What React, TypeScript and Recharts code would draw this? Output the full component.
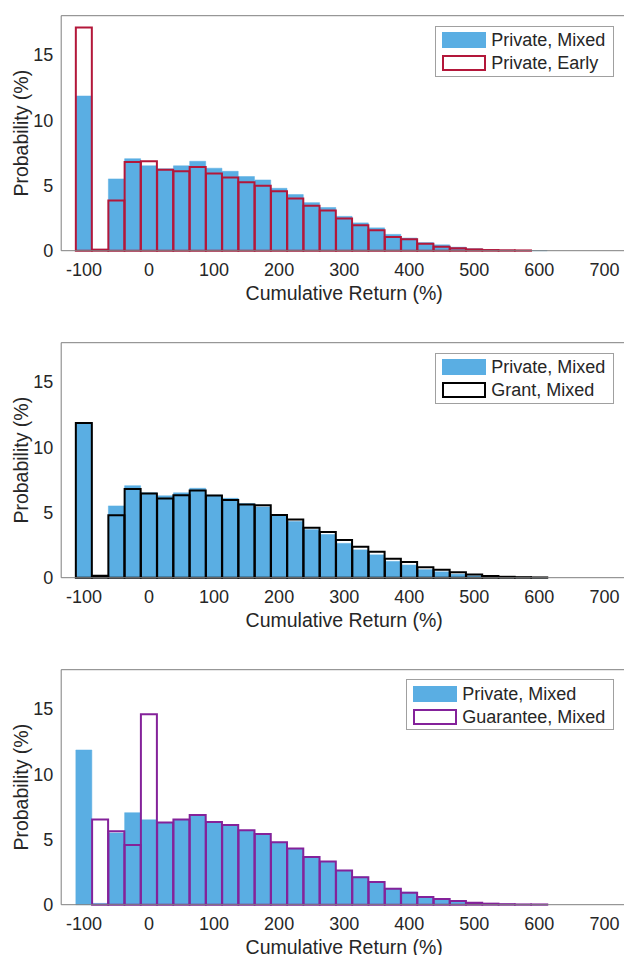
import { BarChart, Bar, XAxis, YAxis, Legend } from 'recharts';

// histogram bins (bin centres, width 25)
const BINS = [-100, -75, -50, -25, 0, 25, 50, 75, 100, 125, 150, 175, 200, 225, 250, 275, 300, 325, 350, 375, 400, 425, 450, 475, 500, 525, 550, 575, 600];

const PRIVATE_MIXED = [11.85, 0.1, 5.5, 7.05, 6.5, 6.27, 6.5, 6.85, 6.32, 6.08, 5.68, 5.42, 4.78, 4.3, 3.68, 3.31, 2.63, 2.13, 1.75, 1.25, 0.97, 0.62, 0.45, 0.27, 0.15, 0.08, 0.04, 0.02, 0.01];
const PRIVATE_EARLY = [17.1, 0.08, 3.85, 6.8, 6.85, 6.2, 6.08, 6.42, 5.92, 5.6, 5.25, 4.97, 4.55, 4.0, 3.45, 3.08, 2.46, 1.95, 1.56, 1.05, 0.87, 0.54, 0.31, 0.18, 0.1, 0.05, 0.03, 0.02, null];
const GRANT_MIXED = [11.84, 0.15, 4.79, 6.8, 6.44, 6.06, 6.32, 6.67, 6.29, 5.96, 5.6, 5.55, 4.81, 4.46, 3.82, 3.51, 2.88, 2.37, 1.99, 1.45, 1.2, 0.81, 0.61, 0.41, 0.25, 0.13, 0.07, 0.04, 0.02];
const GUARANTEE_MIXED = [null, 6.52, 5.62, 4.58, 14.58, 6.29, 6.52, 6.88, 6.34, 6.11, 5.7, 5.42, 4.79, 4.3, 3.66, 3.31, 2.62, 2.11, 1.73, 1.22, 0.92, 0.59, 0.43, 0.28, 0.15, 0.08, 0.04, 0.02, 0.02];

const X_TICKS = [-100, 0, 100, 200, 300, 400, 500, 600, 700];
const Y_TICKS = [0, 5, 10, 15];
const X_DOMAIN = [-135, 735];
const Y_DOMAIN = [0, 18];

const FONT = '"Liberation Sans", Arial, Helvetica, sans-serif';
const TEXT = '#262626';
const AXIS = '#7f7f7f';
const BLUE = '#5AAEE3';

const CHART_W = 640;
const CHART_H = 327;

const panels = [
  { name: 'Private, Early', values: PRIVATE_EARLY, color: '#B3173A', top: 0 },
  { name: 'Grant, Mixed', values: GRANT_MIXED, color: '#000000', top: 327 },
  { name: 'Guarantee, Mixed', values: GUARANTEE_MIXED, color: '#84229A', top: 653.6 },
];

function LegendBox({ color, name }: { color: string; name: string }) {
  const rows = [
    { label: 'Private, Mixed', swatch: { background: BLUE } },
    { label: name, swatch: { background: '#fff', border: `2px solid ${color}` } },
  ];
  return (
    <div style={{ border: '1px solid #a0a0a0', background: '#fff', padding: '2px 8px 1px 6px', fontFamily: FONT }}>
      {rows.map(r => (
        <div key={r.label} style={{ display: 'flex', alignItems: 'center', height: 23 }}>
          <span style={{ display: 'inline-block', width: 44, height: 16, boxSizing: 'border-box', ...r.swatch }} />
          <span style={{ marginLeft: 5, fontSize: 18, color: TEXT, whiteSpace: 'nowrap', lineHeight: 1 }}>{r.label}</span>
        </div>
      ))}
    </div>
  );
}

function Panel({ name, values, color, top }: { name: string; values: (number | null)[]; color: string; top: number }) {
  const data = BINS.map((bin, i) => ({ bin, mixed: PRIVATE_MIXED[i], other: values[i] }));
  const tickStyle = { fontSize: 18, fill: TEXT, fontFamily: FONT };

  return (
    <div style={{ position: 'absolute', left: 0, top }}>
      <BarChart
        width={CHART_W}
        height={CHART_H}
        data={data}
        margin={{ top: 15.7, right: 12.8, bottom: 36.3, left: 0 }}
        barCategoryGap={0}
        barGap={0}
        style={{ fontFamily: FONT }}
      >
        <Bar xAxisId="fill" yAxisId="main" dataKey="mixed" name="Private, Mixed" fill={BLUE} stroke={BLUE} strokeWidth={0.5} isAnimationActive={false} />
        <Bar xAxisId="line" yAxisId="main" dataKey="other" name={name} fill="none" stroke={color} strokeWidth={2} isAnimationActive={false} />

        <XAxis
          xAxisId="fill"
          dataKey="bin"
          type="number"
          domain={X_DOMAIN}
          ticks={X_TICKS}
          interval={0}
          height={40}
          tickLine={false}
          tickSize={0}
          tickMargin={13}
          tick={tickStyle}
          axisLine={{ stroke: AXIS }}
          label={{ value: 'Cumulative Return (%)', position: 'insideTop', offset: 35, fontSize: 19.5, fill: TEXT }}
        />
        <XAxis xAxisId="line" dataKey="bin" type="number" domain={X_DOMAIN} hide />
        <XAxis xAxisId="inTicks" type="number" domain={X_DOMAIN} ticks={X_TICKS} interval={0} mirror tick={false} axisLine={false} tickSize={4.5} tickLine={{ stroke: AXIS }} />
        <XAxis xAxisId="top" orientation="top" type="number" domain={X_DOMAIN} ticks={X_TICKS} interval={0} mirror tick={false} tickSize={4.5} tickLine={{ stroke: AXIS }} axisLine={{ stroke: AXIS }} />

        <YAxis
          yAxisId="main"
          domain={Y_DOMAIN}
          ticks={Y_TICKS}
          interval={0}
          width={61.2}
          tickLine={false}
          tickSize={0}
          tickMargin={8}
          tick={tickStyle}
          axisLine={{ stroke: AXIS }}
          label={{ value: 'Probability (%)', angle: -90, position: 'insideLeft', offset: 21, fontSize: 19.5, fill: TEXT, style: { textAnchor: 'middle' } }}
        />
        <YAxis yAxisId="inTicks" domain={Y_DOMAIN} ticks={Y_TICKS} interval={0} mirror tick={false} axisLine={false} tickSize={4} tickLine={{ stroke: AXIS }} />
        <YAxis yAxisId="right" orientation="right" domain={Y_DOMAIN} ticks={Y_TICKS} interval={0} mirror tick={false} tickSize={4} tickLine={{ stroke: AXIS }} axisLine={{ stroke: AXIS }} />

        <Legend
          layout="horizontal"
          verticalAlign="middle"
          align="center"
          wrapperStyle={{ top: 25.7, right: 25.7, left: 'auto', width: 'auto', height: 'auto' }}
          content={() => <LegendBox color={color} name={name} />}
        />
      </BarChart>
    </div>
  );
}

export default function App() {
  return (
    <div style={{ position: 'absolute', left: 0, top: 0, width: 624, height: 955, overflow: 'hidden', background: '#fff' }}>
      {panels.map(p => (
        <Panel key={p.name} {...p} />
      ))}
    </div>
  );
}
